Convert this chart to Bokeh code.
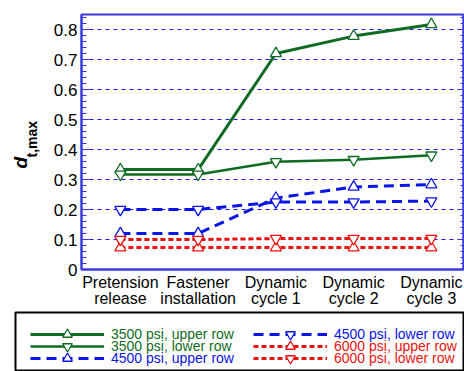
import numpy as np
from bokeh.plotting import figure
from bokeh.layouts import column, row
from bokeh.models import (FixedTicker, LinearAxis, Legend, LegendItem, Label,
                          CustomJSTickFormatter, Range1d)
from bokeh.embed import file_html
from bokeh.resources import INLINE

# ---- data ----
stages = ["Pretension\nrelease", "Fastener\ninstallation", "Dynamic\ncycle 1",
          "Dynamic\ncycle 2", "Dynamic\ncycle 3"]
x_pos = [0, 1, 2, 3, 4]
s3500_upper = [0.333, 0.333, 0.720, 0.778, 0.817]
s3500_lower = [0.317, 0.317, 0.359, 0.366, 0.381]
s4500_upper = [0.120, 0.120, 0.238, 0.275, 0.283]
s4500_lower = [0.200, 0.200, 0.225, 0.225, 0.228]
s6000_upper = [0.073, 0.073, 0.073, 0.073, 0.073]
s6000_lower = [0.100, 0.100, 0.103, 0.103, 0.103]
y_ticks = [0, 0.1, 0.2, 0.3, 0.4, 0.5, 0.6, 0.7, 0.8]
y_tick_labels = ["0", "0.1", "0.2", "0.3", "0.4", "0.5", "0.6", "0.7", "0.8"]
names = ["3500 psi, upper row", "3500 psi, lower row", "4500 psi, upper row",
         "4500 psi, lower row", "6000 psi, upper row", "6000 psi, lower row"]

GREEN = "#0f6b22"
BLUE = "#0a14e6"
RED = "#ee1111"
FRAME = "#3a3ae0"
GRID = "#1515ff"
FONT = "Liberation Sans"

series = [
    (s3500_upper, GREEN, None, 3.0, "triangle"),
    (s3500_lower, GREEN, None, 2.5, "inverted_triangle"),
    (s4500_upper, BLUE, "10 6", 3.0, "triangle"),
    (s4500_lower, BLUE, "10 6", 3.0, "inverted_triangle"),
    (s6000_upper, RED, "5 3", 3.0, "triangle"),
    (s6000_lower, RED, "5 3", 3.0, "inverted_triangle"),
]

TOP_H = 310

# ---------------- y-axis title panel ----------------
t = figure(width=40, height=TOP_H, output_backend="svg", toolbar_location=None,
           x_range=Range1d(0, 1), y_range=Range1d(0, 1),
           x_axis_type=None, y_axis_type=None,
           min_border_left=0, min_border_right=0, min_border_top=14,
           min_border_bottom=41)
t.outline_line_color = None
t.grid.visible = False
t.add_layout(Label(x=20, y=101, x_units="screen", y_units="screen", text="d",
                   angle=np.pi / 2, text_font=FONT, text_font_size="19px",
                   text_font_style="bold italic", text_color="black",
                   text_baseline="alphabetic", text_align="left"))
t.add_layout(Label(x=31, y=112, x_units="screen", y_units="screen", text="t,max",
                   angle=np.pi / 2, text_font=FONT, text_font_size="14px",
                   text_font_style="bold", text_color="black",
                   text_baseline="alphabetic", text_align="left"))

# ---------------- main chart ----------------
p = figure(width=424, height=TOP_H, output_backend="svg", toolbar_location=None,
           x_range=Range1d(-0.5, 4.413), y_range=Range1d(0, 0.85),
           min_border_left=41, min_border_top=14, min_border_bottom=41,
           min_border_right=1)
p.outline_line_color = FRAME
p.outline_line_width = 2
p.xgrid.visible = False
p.ygrid.grid_line_color = GRID
p.ygrid.grid_line_dash = "4 4"
p.ygrid.grid_line_width = 1

minor = list(np.round(np.arange(0, 0.86, 0.02), 3))
p.yaxis.ticker = FixedTicker(ticks=y_ticks, minor_ticks=minor)
p.ygrid.ticker = FixedTicker(ticks=y_ticks[1:])
p.yaxis.major_label_overrides = {tk: l for tk, l in zip(y_ticks, y_tick_labels)}
ax = p.yaxis[0]
ax.axis_line_color = FRAME
ax.axis_line_width = 2
ax.major_tick_line_color = FRAME
ax.minor_tick_line_color = FRAME
ax.major_tick_in = 8
ax.major_tick_out = 0
ax.minor_tick_in = 5
ax.minor_tick_out = 0
ax.major_label_text_font = FONT
ax.major_label_text_font_size = "17px"
ax.major_label_text_color = "black"
ax.major_label_standoff = 4

rax = LinearAxis(ticker=FixedTicker(ticks=y_ticks, minor_ticks=minor),
                 formatter=CustomJSTickFormatter(code="return ''"))
rax.axis_line_color = FRAME
rax.axis_line_width = 2
rax.major_tick_line_color = FRAME
rax.minor_tick_line_color = FRAME
rax.major_tick_in = 6
rax.major_tick_out = 0
rax.minor_tick_in = 3
rax.minor_tick_out = 0
rax.major_label_text_font_size = "1px"
rax.major_label_standoff = 0
p.add_layout(rax, "right")

p.xaxis.ticker = FixedTicker(ticks=x_pos)
p.xaxis.major_label_overrides = {x: s for x, s in zip(x_pos, stages)}
p.xaxis.axis_line_color = FRAME
p.xaxis.axis_line_width = 2
p.xaxis.major_tick_line_color = None
p.xaxis.minor_tick_line_color = None
p.xaxis.major_tick_out = 0
p.xaxis.major_label_text_font = FONT
p.xaxis.major_label_text_font_size = "16px"
p.xaxis.major_label_text_color = "black"
p.xaxis.major_label_text_line_height = 0.95
p.xaxis.major_label_standoff = 4

for vals, col, dash, lw, mk in series:
    kw = {} if dash is None else {"line_dash": dash}
    p.line(x_pos, vals, line_color=col, line_width=lw, **kw)
    p.scatter(x_pos, vals, marker=mk, size=11, fill_color="white",
              line_color=col, line_width=1.3)

# ---------------- legend panel ----------------
lgf = figure(width=464, height=371 - TOP_H, output_backend="svg",
             toolbar_location=None,
             x_range=Range1d(-100, -99), y_range=Range1d(0, 1),
             x_axis_type=None, y_axis_type=None,
             min_border_left=15, min_border_right=0, min_border_top=2,
             min_border_bottom=0)
lgf.grid.visible = False
lgf.outline_line_color = "black"
lgf.outline_line_width = 2

row_y = [25.5, 13.5, 1]
col_x = [15, 238]
for i, (name, (vals, col, dash, lw, mk)) in enumerate(zip(names, series)):
    kw = {} if dash is None else {"line_dash": dash}
    ln = lgf.line(x_pos, vals, line_color=col, line_width=lw, **kw)
    sc = lgf.scatter(x_pos, vals, marker=mk, size=11, fill_color="white",
                     line_color=col, line_width=1.3)
    c, r = divmod(i, 3)
    lg = Legend(items=[LegendItem(label=name, renderers=[ln, sc])],
                location=(col_x[c], row_y[r]), padding=0, margin=0,
                spacing=0, glyph_width=74, glyph_height=24, label_height=12,
                label_standoff=7, border_line_alpha=0, background_fill_alpha=0,
                label_text_color=col, label_text_font=FONT,
                label_text_font_size="14px")
    lgf.add_layout(lg)

layout = column(row(t, p, spacing=0), lgf, spacing=0)
open("out.html", "w").write(file_html(layout, INLINE))
